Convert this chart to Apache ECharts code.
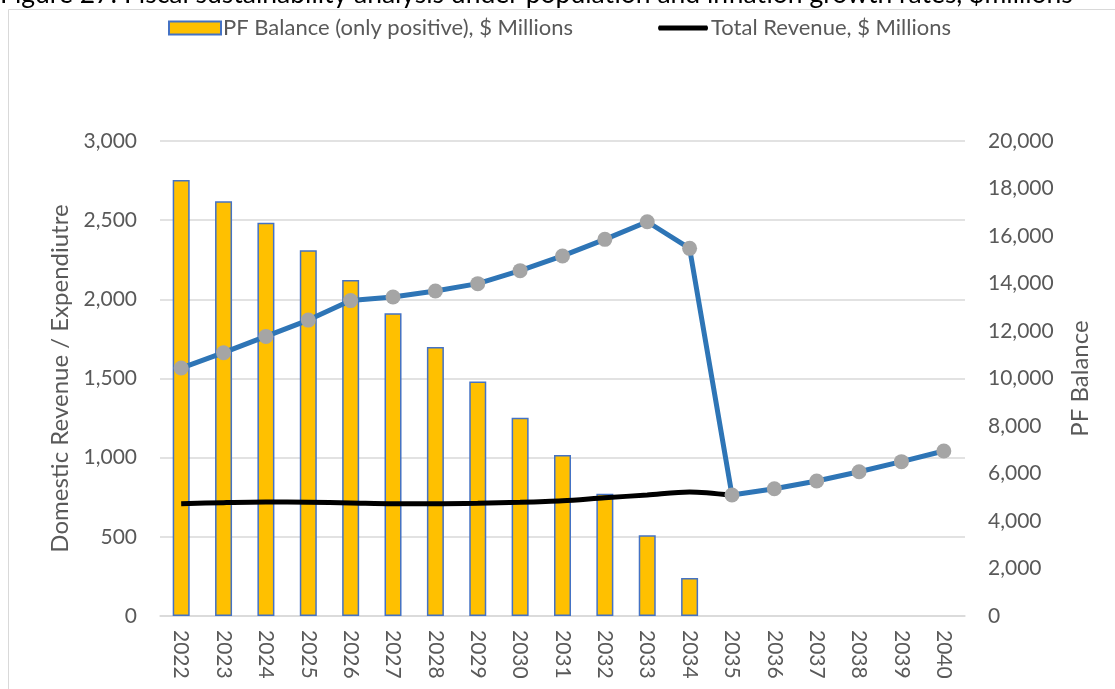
<!DOCTYPE html>
<html>
<head>
<meta charset="utf-8">
<title>Fiscal sustainability</title>
<script src="https://cdn.jsdelivr.net/npm/echarts@6/dist/echarts.min.js"></script>
<style>
  html, body { margin: 0; padding: 0; background: #fff; }
  #chart { width: 1115px; height: 689px; }
</style>
</head>
<body>
<div id="chart"></div>
<script>
// years on the x axis
const years = ['2022','2023','2024','2025','2026','2027','2028','2029','2030','2031',
  '2032','2033','2034','2035','2036','2037','2038','2039','2040'];

// PF balance, only positive ($ millions, right axis)
const pfBalance = [18360, 17460, 16560, 15400, 14150, 12750, 11330, 9870, 8350, 6780,
  5150, 3400, 1600, null, null, null, null, null, null];

// expenditure ($ millions, left axis)
const expenditure = [1566, 1663, 1766, 1869, 1992, 2015, 2053, 2099, 2181, 2274,
  2379, 2490, 2322, 764, 804, 853, 911, 975, 1042];

// total revenue ($ millions, left axis)
const totalRevenue = [709, 716, 720, 718, 714, 709, 709, 712, 718, 728,
  747, 764, 783, 762, null, null, null, null, null];

const leftTicks = { min: 0, max: 3000, interval: 500 };
const rightTicks = { min: 0, max: 20000, interval: 2000 };

const font = 'Lato, "Open Sans", sans-serif';
const grey = '#595959';
const fmt = v => Number(v).toLocaleString('en-US');

// thick line legend icon; tiny corner specks keep the bounding box at 52x13
const lineIcon = 'path://M2,4 L50,4 Q52,6.5 50,9 L2,9 Q0,6.5 2,4 Z M0,0 L0.01,0 L0,0.01 Z M52,13 L51.99,13 L52,12.99 Z';

const chart = echarts.init(document.getElementById('chart'));

const option = {
  animation: false,
  textStyle: { fontFamily: font },
  graphic: [
    {
      type: 'rect',
      shape: { x: 8.5, y: 9.5, width: 1120, height: 700 },
      style: { fill: 'none', stroke: '#d9d9d9', lineWidth: 1 },
      silent: true
    },
    {
      type: 'text',
      style: {
        x: 0, y: 8,
        text: 'Figure 27: Fiscal sustainability analysis under population and inflation growth rates, $millions',
        font: '26.5px ' + font,
        fill: '#000',
        textVerticalAlign: 'bottom'
      },
      silent: true
    }
  ],
  legend: {
    left: 163,
    top: 12,
    itemGap: 84,
    itemWidth: 52,
    itemHeight: 13,
    data: [
      { name: 'PF Balance (only positive), $ Millions', icon: 'rect' },
      { name: 'Total Revenue, $ Millions', icon: lineIcon, itemStyle: { color: '#000' } }
    ],
    textStyle: { fontSize: 22, color: grey, fontFamily: font, padding: [0, 0, 0, -3] }
  },
  grid: { left: 160, right: 150, top: 141, bottom: 73 },
  xAxis: {
    type: 'category',
    data: years,
    axisTick: { show: false },
    axisLine: { lineStyle: { color: '#d9d9d9', width: 1.5 } },
    axisLabel: { rotate: -90, margin: 14, fontSize: 21, color: grey, fontFamily: font }
  },
  yAxis: [
    {
      type: 'value',
      min: leftTicks.min, max: leftTicks.max, interval: leftTicks.interval,
      name: 'Domestic Revenue / Expendiutre',
      nameLocation: 'middle',
      nameGap: 86,
      nameTextStyle: { fontSize: 24, color: grey, fontFamily: font },
      axisLine: { show: false },
      axisTick: { show: false },
      splitLine: { lineStyle: { color: '#d9d9d9', width: 1.5 } },
      axisLabel: { fontSize: 21, color: grey, margin: 23, formatter: fmt, fontFamily: font }
    },
    {
      type: 'value',
      min: rightTicks.min, max: rightTicks.max, interval: rightTicks.interval,
      name: 'PF Balance',
      nameLocation: 'middle',
      nameGap: 103,
      nameRotate: 90,
      nameTextStyle: { fontSize: 24, color: grey, fontFamily: font },
      axisLine: { show: false },
      axisTick: { show: false },
      splitLine: { show: false },
      axisLabel: { fontSize: 21, color: grey, margin: 23, formatter: fmt, fontFamily: font }
    }
  ],
  series: [
    {
      name: 'PF Balance (only positive), $ Millions',
      type: 'bar',
      yAxisIndex: 1,
      data: pfBalance,
      barWidth: 17,
      itemStyle: { color: '#FFC000', borderColor: '#4472C4', borderWidth: 1.5 },
      z: 2
    },
    {
      name: 'Total Revenue, $ Millions',
      type: 'line',
      yAxisIndex: 0,
      data: totalRevenue,
      symbol: 'none',
      smooth: 0.3,
      lineStyle: { color: '#000', width: 5 },
      itemStyle: { color: '#000' },
      z: 3
    },
    {
      name: 'Expenditure',
      type: 'line',
      yAxisIndex: 0,
      data: expenditure,
      symbol: 'circle',
      symbolSize: 15,
      showAllSymbol: true,
      lineStyle: { color: '#2E75B6', width: 5 },
      itemStyle: { color: '#A5A5A5' },
      z: 4
    }
  ]
};

chart.setOption(option);
</script>
</body>
</html>
